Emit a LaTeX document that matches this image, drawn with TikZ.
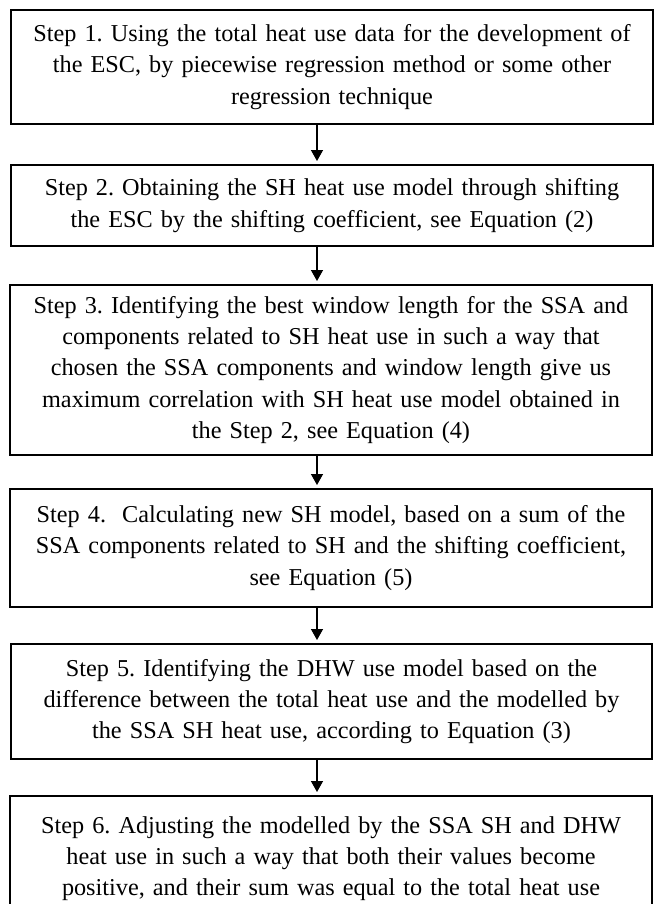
\documentclass[tikz,border=0pt]{standalone}
\usepackage{fontspec}
\setmainfont{Liberation Serif}
\usetikzlibrary{arrows.meta}

\begin{document}
\begin{tikzpicture}[x=0.02cm,y=-0.02cm]

    \clip (0,0) rectangle (656,904);

        \begin{scope}[every node/.style={rectangle,draw,line width=0.04cm,minimum width=12.8cm,text width=12.6cm,align=center,font=\fontsize{13.8}{17.8}\selectfont\frenchspacing}]
            \node[minimum height=2.28cm] (s1) at (332,67) {Step 1. Using the total heat use data for the development of\\ the ESC, by piecewise regression method or some other\\ regression technique};

            \node[minimum height=1.62cm] (s2) at (332,205.5) {Step 2. Obtaining the SH heat use model through shifting\\ the ESC by the shifting coefficient, see Equation (2)};
            \node[minimum height=3.4cm] (s3) at (331,370) {Step 3. Identifying the best window length for the SSA and\\ components related to SH heat use in such a way that\\ chosen the SSA components and window length give us\\ maximum correlation with SH heat use model obtained in\\ the Step 2, see Equation (4)};
            \node[minimum height=2.36cm] (s4) at (331,548) {Step 4.\ \ Calculating new SH model, based on a sum of the\\ SSA components related to SH and the shifting coefficient,\\ see Equation (5)};
            \node[minimum height=2.3cm] (s5) at (331.5,701.5) {Step 5. Identifying the DHW use model based on the\\ difference between the total heat use and the modelled by\\ the SSA SH heat use, according to Equation (3)};
            \node[minimum height=2.5cm] (s6) at (331,858.5) {Step 6. Adjusting the modelled by the SSA SH and DHW\\ heat use in such a way that both their values become\\ positive, and their sum was equal to the total heat use};
        \end{scope}

        \coordinate (ax) at (317,0);

        \begin{scope}[every edge/.style={draw,line width=0.026cm,-{Triangle[width=0.24cm,length=0.22cm]},shorten >=0.06cm}]
            \path (s1.south -| ax) edge (s2.north -| ax);
            \path (s2.south -| ax) edge (s3.north -| ax);
            \path (s3.south -| ax) edge (s4.north -| ax);
            \path (s4.south -| ax) edge (s5.north -| ax);
            \path (s5.south -| ax) edge (s6.north -| ax);
        \end{scope}

    \end{tikzpicture}
\end{document}
